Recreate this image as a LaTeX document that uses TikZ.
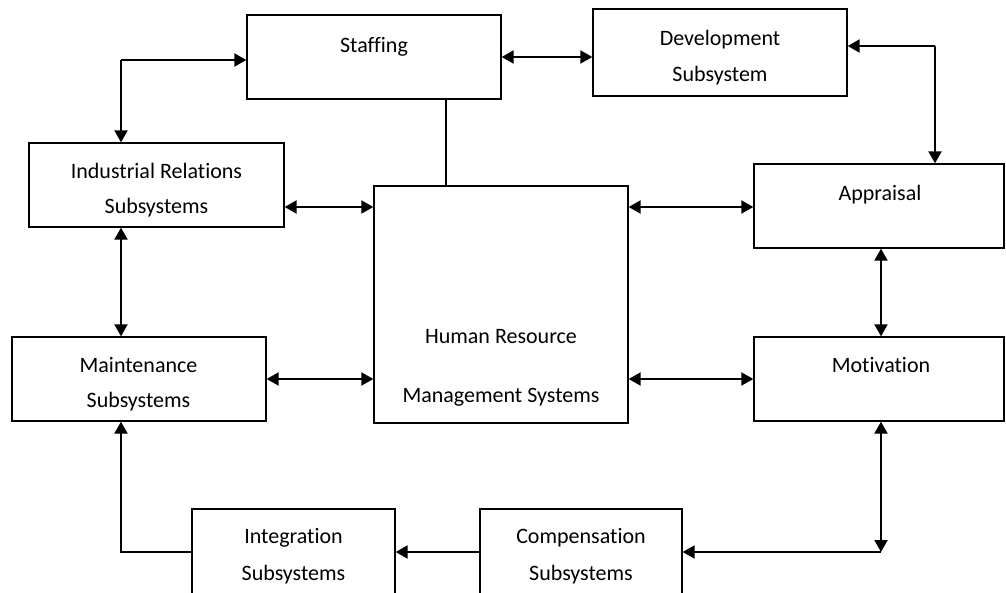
\documentclass[tikz,border=0pt]{standalone}
\usepackage{fontspec}
\setmainfont{Carlito}[Ligatures={NoCommon,NoContextual}]
\usetikzlibrary{arrows.meta}
\begin{document}
\begin{tikzpicture}[x=1pt,y=-1pt,
  box/.style={draw, line width=1.3pt, inner sep=0pt},
  lbl/.style={anchor=base, inner sep=0pt, font=\fontsize{22}{26}\selectfont},
  con/.style={line width=2pt, -{Triangle[length=12pt,width=13pt]}},
  dcon/.style={line width=2pt, {Triangle[length=12pt,width=13pt]}-{Triangle[length=12pt,width=13pt]}},
  plain/.style={line width=1.3pt}]
\useasboundingbox (0,0) rectangle (1006,592);
\clip (0,0) rectangle (1006,592);
% boxes
\node[box, minimum width=254pt, minimum height=84pt] (staff) at (374,57) {};
\node[box, minimum width=254pt, minimum height=87pt] (dev) at (720,52.5) {};
\node[box, minimum width=255pt, minimum height=84pt] (ir) at (156.5,185) {};
\node[box, minimum width=254pt, minimum height=237pt] (hrm) at (501,304.5) {};
\node[box, minimum width=250pt, minimum height=84pt] (app) at (879,206) {};
\node[box, minimum width=254pt, minimum height=84pt] (maint) at (139,379) {};
\node[box, minimum width=250pt, minimum height=84pt] (mot) at (879,379) {};
\node[box, minimum width=203pt, minimum height=91pt] (integ) at (293.5,554.5) {};
\node[box, minimum width=202pt, minimum height=91pt] (comp) at (581,554.5) {};
% texts
\node[lbl] (tstaff) at (374,52) {Staffing};
\node[lbl] (tdev1) at (720,45) {Development};
\node[lbl] (tdev2) at (720,81) {Subsystem};
\node[lbl] (tir1) at (156.5,178) {Industrial Relations};
\node[lbl] (tir2) at (156.5,213) {Subsystems};
\node[lbl] (tapp) at (880,200) {Appraisal};
\node[lbl] (thrm1) at (501,343) {Human Resource};
\node[lbl] (thrm2) at (501,402) {Management Systems};
\node[lbl] (tmaint1) at (138.5,372) {Maintenance};
\node[lbl] (tmaint2) at (138.5,407) {Subsystems};
\node[lbl] (tmot) at (881,372) {Motivation};
\node[lbl] (tint1) at (293.5,543) {Integration};
\node[lbl] (tint2) at (293.5,580) {Subsystems};
\node[lbl] (tcomp1) at (581,543) {Compensation};
\node[lbl] (tcomp2) at (581,580) {Subsystems};
% helper coordinates
\coordinate (c1) at (121,60);
\coordinate (c2) at (935,46);
\coordinate (c3) at (881,552);
\coordinate (c4) at (121,552);
\coordinate (x446) at (446,0);
\coordinate (r207) at (0,207);
\coordinate (col) at (121,0);
\coordinate (col2) at (881,0);
% connectors
\draw[con] (c1) -- (c1 -| staff.west);
\draw[con] (c1) -- (c1 |- ir.north);
\draw[dcon] (staff.east) -- (staff.east -| dev.west);
\draw[con] (c2) -- (c2 -| dev.east);
\draw[con] (c2) -- (c2 |- app.north);
\draw[plain] (staff.south -| x446) -- (hrm.north -| x446);
\draw[dcon] (ir.east |- r207) -- (hrm.west |- r207);
\draw[dcon] (hrm.east |- r207) -- (app.west |- r207);
\draw[dcon] (ir.south -| col) -- (maint.north -| col);
\draw[dcon] (maint.east) -- (maint.east -| hrm.west);
\draw[dcon] (mot.west -| hrm.east) -- (mot.west);
\draw[dcon] (app.south -| col2) -- (mot.north -| col2);
\draw[dcon] (mot.south -| c3) -- (c3);
\draw[con] (c3) -- (c3 -| comp.east);
\draw[con] (c3 -| comp.west) -- (c3 -| integ.east);
\draw[con] (c3 -| integ.west) -- (c4) -- (maint.south -| c4);
\end{tikzpicture}
\end{document}
